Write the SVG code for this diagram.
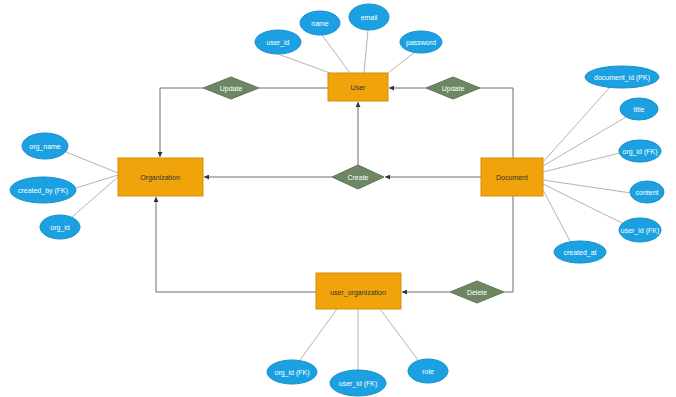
<svg xmlns="http://www.w3.org/2000/svg" width="676" height="397" viewBox="0 0 676 397">
<style>
.ent{fill:#f0a30a;stroke:#d48e0a;stroke-width:1}
.rel{fill:#6d8764;stroke:#5f7657;stroke-width:1}
.att{fill:#1ba1e2;stroke:#1a8fc8;stroke-width:1}
.con{fill:none;stroke:#6e6e6e;stroke-width:1}
.al{fill:none;stroke:#a8a090;stroke-width:0.8}
.t{font-family:"Liberation Sans",Arial,sans-serif;font-size:7px;text-anchor:middle;dominant-baseline:central}
.tw{fill:#ffffff}
.td{fill:#333333}
</style>
<defs>
<marker id="arr" viewBox="0 0 6 6" refX="6" refY="3" markerWidth="5" markerHeight="5" orient="auto">
<path d="M0,0 L6,3 L0,6 z" fill="#333"/>
</marker>
</defs>
<g id="connectors">
<!-- attribute lines -->
<path class="al" d="M278,54 L330,73 M322,35 L350,73 M368,30 L364,73 M415,52 L388,73"/>
<path class="al" d="M610,87 L543,162 M626,117 L543,166 M620,153 L543,172 M631,193 L543,180 M624,224 L543,184 M570,241 L543,190"/>
<path class="al" d="M66,152 L118,173 M76,188 L118,175 M72,217 L118,177"/>
<path class="al" d="M300,360 L337,309 M358,370 L358,309 M418,360 L380,309"/>
<!-- relationships -->
<path class="con" d="M328,88 L259,88 M203,88 L160,88 L160,157" marker-end="url(#arr)"/>
<path class="con" d="M513,158 L513,88 L480,88 M426,88 L389,88" marker-end="url(#arr)"/>
<path class="con" d="M481,177 L385,177" marker-end="url(#arr)"/>
<path class="con" d="M332,177 L204,177" marker-end="url(#arr)"/>
<path class="con" d="M358,165 L358,102" marker-end="url(#arr)"/>
<path class="con" d="M513,196 L513,292 L504,292 M450,292 L402,292" marker-end="url(#arr)"/>
<path class="con" d="M316,292 L156,292 L156,197" marker-end="url(#arr)"/>
</g>
<g id="User"><rect class="ent" x="328" y="73" width="60" height="28"/><text class="t td" x="358" y="87">User</text></g>
<g id="Organization"><rect class="ent" x="118" y="158" width="85" height="38"/><text class="t td" x="160" y="177">Organization</text></g>
<g id="Document"><rect class="ent" x="481" y="158" width="62" height="38"/><text class="t td" x="512" y="177">Document</text></g>
<g id="user_organization"><rect class="ent" x="316" y="273" width="85" height="36"/><text class="t td" x="358" y="292">user_organization</text></g>
<g id="update1"><polygon class="rel" points="203,88 231,77 259,88 231,99"/><text class="t tw" x="231" y="88">Update</text></g>
<g id="update2"><polygon class="rel" points="426,88 453,77 480,88 453,99"/><text class="t tw" x="453" y="88">Update</text></g>
<g id="create"><polygon class="rel" points="332,177 358,165 384,177 358,189"/><text class="t tw" x="358" y="177">Create</text></g>
<g id="delete"><polygon class="rel" points="450,292 477,281 504,292 477,303"/><text class="t tw" x="477" y="292">Delete</text></g>
<g id="a_user_id"><ellipse class="att" cx="278" cy="42" rx="23" ry="12"/><text class="t tw" x="278" y="42">user_id</text></g>
<g id="a_name"><ellipse class="att" cx="320" cy="23" rx="20" ry="12"/><text class="t tw" x="320" y="23">name</text></g>
<g id="a_email"><ellipse class="att" cx="369" cy="17" rx="20" ry="13"/><text class="t tw" x="369" y="17">email</text></g>
<g id="a_password"><ellipse class="att" cx="421" cy="42" rx="21" ry="11"/><text class="t tw" x="421" y="42">password</text></g>
<g id="a_document_id"><ellipse class="att" cx="622" cy="77" rx="37" ry="11"/><text class="t tw" x="622" y="77">document_id (PK)</text></g>
<g id="a_title"><ellipse class="att" cx="639" cy="109" rx="19" ry="11"/><text class="t tw" x="639" y="109">title</text></g>
<g id="a_doc_org_id"><ellipse class="att" cx="640" cy="151" rx="21" ry="11"/><text class="t tw" x="640" y="151">org_id (FK)</text></g>
<g id="a_content"><ellipse class="att" cx="647" cy="192" rx="17" ry="11"/><text class="t tw" x="647" y="192">content</text></g>
<g id="a_doc_user_id"><ellipse class="att" cx="640" cy="230" rx="21" ry="12"/><text class="t tw" x="640" y="230">user_id (FK)</text></g>
<g id="a_created_at"><ellipse class="att" cx="580" cy="252" rx="26" ry="11"/><text class="t tw" x="580" y="252">created_at</text></g>
<g id="a_org_name"><ellipse class="att" cx="45" cy="146" rx="23" ry="13"/><text class="t tw" x="45" y="146">org_name</text></g>
<g id="a_created_by"><ellipse class="att" cx="43" cy="190" rx="33" ry="13"/><text class="t tw" x="43" y="190">created_by (FK)</text></g>
<g id="a_org_id"><ellipse class="att" cx="60" cy="227" rx="20" ry="12"/><text class="t tw" x="60" y="227">org_id</text></g>
<g id="a_uo_org_id"><ellipse class="att" cx="292" cy="372" rx="25" ry="12"/><text class="t tw" x="292" y="372">org_id (FK)</text></g>
<g id="a_uo_user_id"><ellipse class="att" cx="358" cy="383" rx="28" ry="13"/><text class="t tw" x="358" y="383">user_id (FK)</text></g>
<g id="a_role"><ellipse class="att" cx="428" cy="371" rx="20" ry="12"/><text class="t tw" x="428" y="371">role</text></g>
</svg>
